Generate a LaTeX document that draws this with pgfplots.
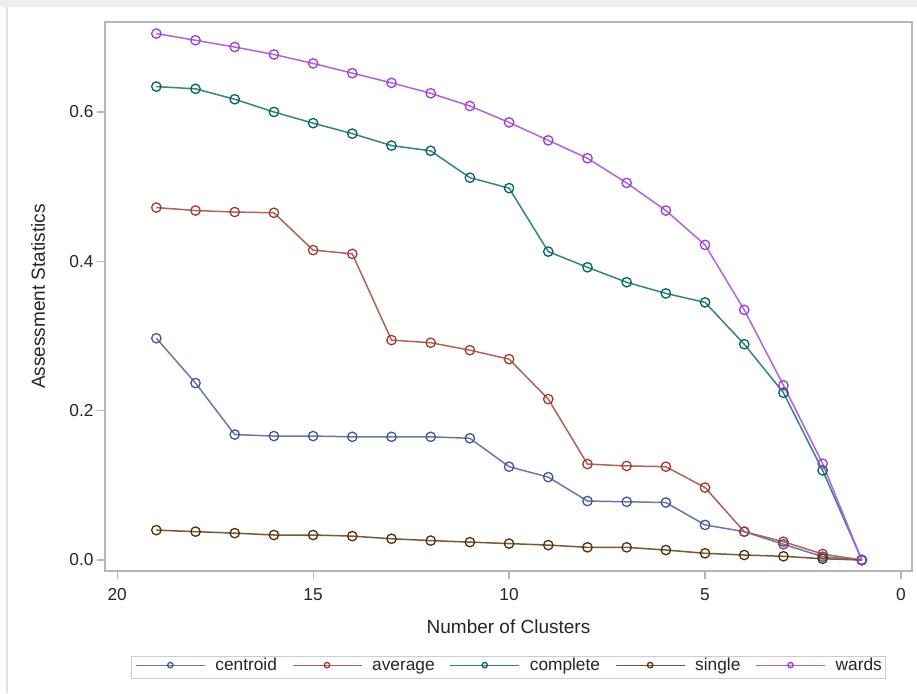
\documentclass[border=0pt]{standalone}
\usepackage{fontspec}
\setmainfont{Liberation Sans}
\usepackage{pgfplots}
\usepackage{pgfplotstable}
\pgfplotsset{compat=1.18}

\definecolor{cCen}{HTML}{445694}
\definecolor{cAvg}{HTML}{A23A2E}
\definecolor{cCom}{HTML}{01665E}
\definecolor{cSin}{HTML}{543005}
\definecolor{cWar}{HTML}{9D3CDB}
\definecolor{frameGray}{HTML}{B4B8BE}
\definecolor{bgGray}{HTML}{ECEEF1}

\pgfplotstableread{
n centroid average complete single wards
19 0.297 0.472 0.634 0.040 0.705
18 0.237 0.468 0.631 0.038 0.696
17 0.168 0.466 0.617 0.036 0.687
16 0.166 0.465 0.600 0.0335 0.677
15 0.166 0.415 0.585 0.0335 0.665
14 0.165 0.410 0.571 0.032 0.652
13 0.165 0.2945 0.555 0.0285 0.639
12 0.165 0.291 0.548 0.026 0.625
11 0.163 0.281 0.512 0.024 0.608
10 0.125 0.269 0.498 0.022 0.586
9 0.111 0.2155 0.413 0.020 0.562
8 0.079 0.1285 0.392 0.017 0.538
7 0.078 0.126 0.372 0.017 0.505
6 0.077 0.125 0.357 0.0134 0.468
5 0.047 0.097 0.345 0.009 0.422
4 0.038 0.038 0.289 0.0067 0.335
3 0.021 0.0245 0.224 0.005 0.234
2 0.0045 0.008 0.120 0.0017 0.129
1 0 0 0 0 0
}\datatable

\newcommand{\tickfont}{\fontsize{17.3}{20}\selectfont}
\newcommand{\labfont}{\fontsize{19}{22}\selectfont}

\begin{document}
\begin{tikzpicture}
\useasboundingbox (0,0) rectangle (917pt,693pt);
\fill[white] (0,0) rectangle (917pt,693pt);
\fill[bgGray] (0,686pt) rectangle (917pt,693pt);
\draw[bgGray!90!black!60!bgGray, line width=2pt] (7pt,0) -- (7pt,686pt);
\begin{axis}[
  at={(105pt,122pt)}, anchor=south west,
  scale only axis, width=807pt, height=549pt,
  x dir=reverse,
  xmin=-0.28, xmax=20.31,
  ymin=-0.0147, ymax=0.7205,
  xtick={0,5,10,15,20},
  ytick={0,0.2,0.4,0.6},
  yticklabel style={/pgf/number format/.cd, fixed, fixed zerofill, precision=1},
  xticklabel style={yshift=-6pt},
  /pgf/number format/assume math mode=true,
  tick label style={font=\tickfont, text=black!85},
  tick align=outside, major tick length=8pt,
  tick style={frameGray, line width=1.2pt},
  axis line style={frameGray, line width=1.5pt},
  xtick pos=bottom, ytick pos=left,
  xlabel={Number of Clusters},
  ylabel={Assessment Statistics},
  xlabel style={font=\labfont, text=black!85, at={(axis description cs:0.5,-0.102)}, anchor=center},
  ylabel style={font=\labfont, text=black!85, at={(axis description cs:-0.083,0.5)}, anchor=center, rotate=0},
  legend columns=5,
  legend style={at={(axis description cs:0.5,-0.176)}, anchor=center,
    draw=frameGray!70, line width=1pt, font=\tickfont, text=black!85,
    inner xsep=4pt, inner ysep=3.5pt,
    nodes={text depth=0.3em, text height=0.8em, inner xsep=0pt},
    /tikz/every odd column/.append style={column sep=10pt},
    /tikz/every even column/.append style={column sep=15pt}},
  legend cell align=left,
  legend image code/.code={
    \draw[#1, mark size=2.7pt, mark repeat=2, mark phase=2, line width=1.2pt, yshift=2.5pt]
      plot coordinates {(0pt,0pt) (34.5pt,0pt) (69pt,0pt)};
  },
  every axis plot/.append style={line width=1.5pt, mark=o, mark size=4.7pt},
]
\addplot[color=cCen!80!white, mark options={draw=cCen, line width=1.3pt}] table[x=n, y=centroid] {\datatable};
\addlegendentry{centroid}
\addplot[color=cAvg!80!white, mark options={draw=cAvg, line width=1.3pt}] table[x=n, y=average] {\datatable};
\addlegendentry{average}
\addplot[color=cCom!80!white, mark options={draw=cCom, line width=1.3pt}] table[x=n, y=complete] {\datatable};
\addlegendentry{complete}
\addplot[color=cSin!80!white, mark options={draw=cSin, line width=1.3pt}] table[x=n, y=single] {\datatable};
\addlegendentry{single}
\addplot[color=cWar!80!white, mark options={draw=cWar, line width=1.3pt}] table[x=n, y=wards] {\datatable};
\addlegendentry{wards}
\end{axis}
\end{tikzpicture}
\end{document}
